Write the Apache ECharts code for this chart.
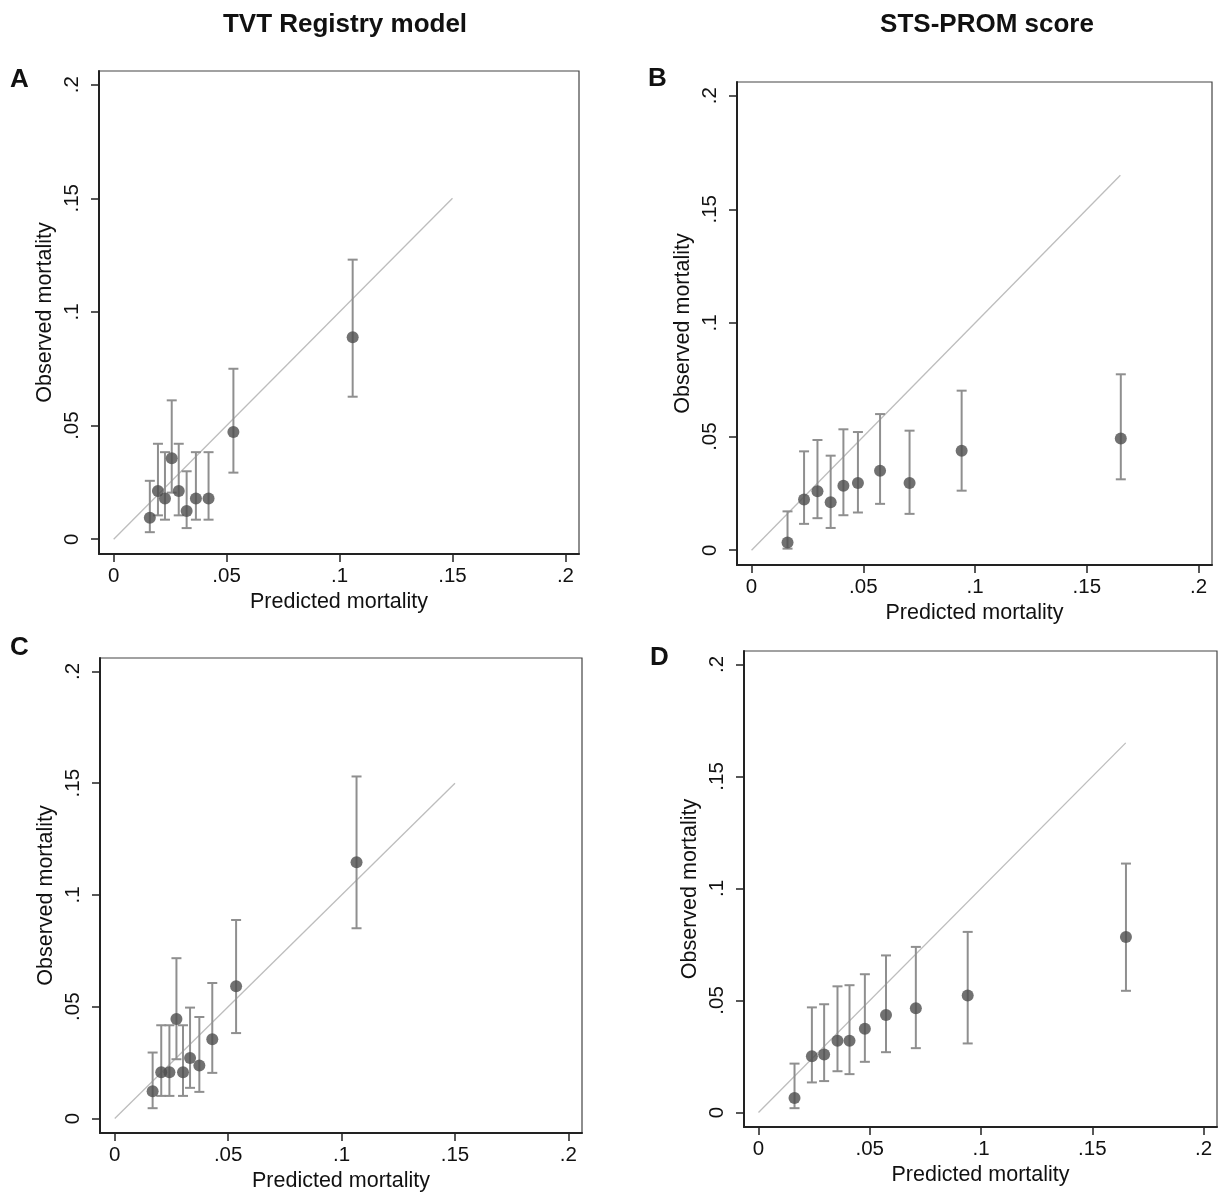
<!DOCTYPE html>
<html>
<head>
<meta charset="utf-8">
<title>Calibration plots</title>
<script src="https://cdn.jsdelivr.net/npm/echarts@6/dist/echarts.min.js"></script>
<style>
  html, body { margin: 0; padding: 0; background: #fff; }
  #chart { width: 1229px; height: 1201px; }
</style>
</head>
<body>
<div id="chart"></div>
<script>
// tick values shared by every panel
const ticks = [0, 0.05, 0.1, 0.15, 0.2];

// A: TVT Registry model (top)
const predA = [0.016, 0.0196, 0.0227, 0.0257, 0.0288, 0.0323, 0.0364, 0.042, 0.053, 0.1058];
const obsA  = [0.0094, 0.0212, 0.0179, 0.0356, 0.0212, 0.0124, 0.0179, 0.0179, 0.0472, 0.0889];
const loA   = [0.0031, 0.0105, 0.0086, 0.0205, 0.0105, 0.0049, 0.0086, 0.0086, 0.0293, 0.0627];
const hiA   = [0.0257, 0.042, 0.0383, 0.0611, 0.042, 0.0299, 0.0383, 0.0383, 0.075, 0.123];

// B: STS-PROM score (top)
const predB = [0.0161, 0.0235, 0.0295, 0.0354, 0.0411, 0.0476, 0.0575, 0.0707, 0.094, 0.1652];
const obsB  = [0.0034, 0.0223, 0.0259, 0.0211, 0.0284, 0.0296, 0.035, 0.0296, 0.0438, 0.0492];
const loB   = [0.0007, 0.0116, 0.0141, 0.0098, 0.0154, 0.0166, 0.0204, 0.016, 0.0262, 0.0312];
const hiB   = [0.0171, 0.0435, 0.0485, 0.0416, 0.0532, 0.052, 0.0599, 0.0526, 0.0702, 0.0774];

// C: TVT Registry model (bottom)
const predC = [0.0167, 0.0205, 0.0241, 0.0272, 0.0301, 0.0332, 0.0373, 0.043, 0.0535, 0.1066];
const obsC  = [0.0122, 0.0207, 0.0207, 0.0445, 0.0207, 0.0271, 0.0237, 0.0354, 0.0591, 0.1146];
const loC   = [0.0046, 0.0101, 0.0101, 0.0265, 0.0101, 0.0137, 0.0119, 0.0204, 0.0382, 0.0851];
const hiC   = [0.0295, 0.0417, 0.0417, 0.0717, 0.0417, 0.0496, 0.0454, 0.0606, 0.0888, 0.153];

// D: STS-PROM score (bottom)
const predD = [0.0162, 0.024, 0.0295, 0.0355, 0.0409, 0.0478, 0.0573, 0.0707, 0.094, 0.1651];
const obsD  = [0.0064, 0.0251, 0.0259, 0.032, 0.032, 0.0374, 0.0435, 0.0465, 0.0522, 0.0783];
const loD   = [0.0019, 0.0134, 0.014, 0.0184, 0.0171, 0.0226, 0.0269, 0.0287, 0.0308, 0.0543];
const hiD   = [0.0218, 0.0469, 0.0483, 0.0563, 0.0568, 0.0617, 0.0701, 0.0739, 0.0806, 0.1111];

// end of the identity line
const refEnd = [0.15, 0.165, 0.15, 0.165];

const panels = [
  { pred: predA, obs: obsA, lo: loA, hi: hiA, grid: { left: 99, top: 71, width: 480, height: 483 } },
  { pred: predB, obs: obsB, lo: loB, hi: hiB, grid: { left: 737, top: 82, width: 475, height: 483 } },
  { pred: predC, obs: obsC, lo: loC, hi: hiC, grid: { left: 100, top: 658, width: 482, height: 475 } },
  { pred: predD, obs: obsD, lo: loD, hi: hiD, grid: { left: 744, top: 651, width: 473, height: 476 } }
];

const FONT = 'Arial, "Liberation Sans", sans-serif';
const TXT = '#111';
const fmt = v => (v === 0 ? '0' : String(+v.toFixed(2)).replace(/^0\./, '.'));

const grids = [], xAxes = [], yAxes = [], series = [];

panels.forEach((p, i) => {
  grids.push(Object.assign({ show: true, borderColor: '#444', borderWidth: 1.2, backgroundColor: '#fff' }, p.grid));

  const common = {
    gridIndex: i,
    type: 'value',
    min: -0.0065,
    max: 0.206,
    splitLine: { show: false },
    axisLine: { show: true, onZero: false, lineStyle: { color: '#222', width: 2 } },
    axisTick: { show: true, inside: false, length: 8, customValues: ticks, lineStyle: { color: '#222', width: 1.5 } },
    nameLocation: 'middle',
    nameTextStyle: { fontFamily: FONT, fontSize: 21.5, color: TXT }
  };

  xAxes.push(Object.assign({}, common, {
    position: 'bottom',
    name: 'Predicted mortality',
    nameGap: 37,
    axisLabel: { customValues: ticks, formatter: fmt, margin: 12, fontFamily: FONT, fontSize: 20.5, color: TXT }
  }));

  yAxes.push(Object.assign({}, common, {
    position: 'left',
    name: 'Observed mortality',
    nameGap: 43,
    axisLabel: { customValues: ticks, formatter: fmt, rotate: 90, margin: 16, fontFamily: FONT, fontSize: 20.5, color: TXT }
  }));

  series.push({
    type: 'line',
    xAxisIndex: i,
    yAxisIndex: i,
    data: [[0, 0], [refEnd[i], refEnd[i]]],
    symbol: 'none',
    silent: true,
    lineStyle: { color: '#bdbdbd', width: 1.3 },
    z: 1
  });

  // confidence intervals with caps
  series.push({
    type: 'custom',
    xAxisIndex: i,
    yAxisIndex: i,
    data: p.pred.map((x, k) => [x, p.lo[k], p.hi[k]]),
    renderItem: (params, api) => {
      const top = api.coord([api.value(0), api.value(2)]);
      const bot = api.coord([api.value(0), api.value(1)]);
      const cap = 5;
      const style = { stroke: '#8f8f8f', lineWidth: 2 };
      return {
        type: 'group',
        children: [
          { type: 'line', shape: { x1: top[0], y1: top[1], x2: bot[0], y2: bot[1] }, style },
          { type: 'line', shape: { x1: top[0] - cap, y1: top[1], x2: top[0] + cap, y2: top[1] }, style },
          { type: 'line', shape: { x1: bot[0] - cap, y1: bot[1], x2: bot[0] + cap, y2: bot[1] }, style }
        ]
      };
    },
    silent: true,
    z: 2
  });

  series.push({
    type: 'scatter',
    xAxisIndex: i,
    yAxisIndex: i,
    data: p.pred.map((x, k) => [x, p.obs[k]]),
    symbol: 'circle',
    symbolSize: 12,
    itemStyle: { color: '#4d4d4d' },
    z: 3
  });
});

const textEl = (x, y, text, size, align) => ({
  type: 'text',
  x: x,
  y: y,
  style: { text: text, fontFamily: FONT, fontSize: size, fontWeight: 'bold', fill: '#111', textAlign: align, textVerticalAlign: 'middle' }
});

const chart = echarts.init(document.getElementById('chart'), null, { renderer: 'canvas' });
chart.setOption({
  backgroundColor: '#fff',
  animation: false,
  grid: grids,
  xAxis: xAxes,
  yAxis: yAxes,
  series: series,
  graphic: [
    textEl(345, 25, 'TVT Registry model', 26, 'center'),
    textEl(987, 25, 'STS-PROM score', 26, 'center'),
    textEl(10, 80, 'A', 26, 'left'),
    textEl(648, 79, 'B', 26, 'left'),
    textEl(10, 648, 'C', 26, 'left'),
    textEl(650, 658, 'D', 26, 'left')
  ]
});
</script>
</body>
</html>
